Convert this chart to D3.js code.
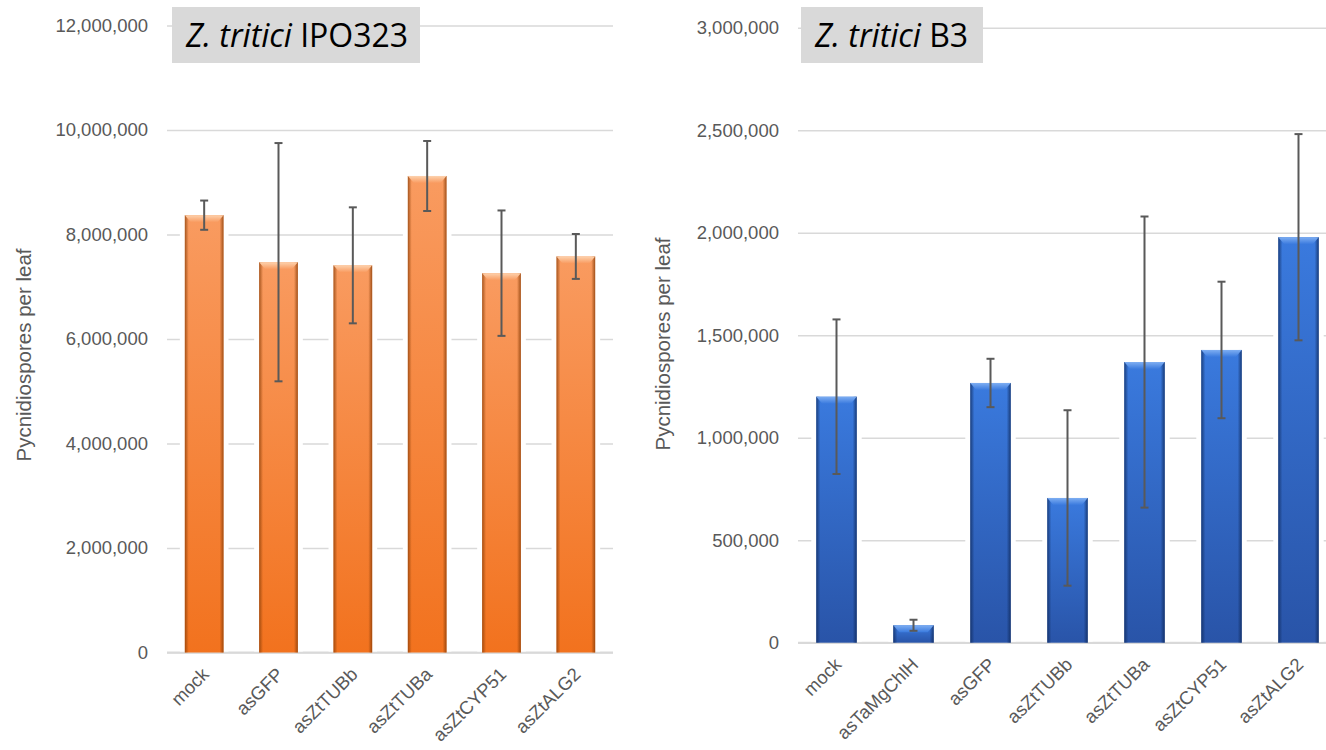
<html>
  <head>
    <meta charset="utf-8">
    <title>Pycnidiospores per leaf</title>
    <style>
      body { margin: 0; background: #fff; }
      svg text { font-family: "Liberation Sans", Arial, sans-serif; }
    </style>
    <script src="https://d3js.org/d3.v7.min.js"></script>
  </head>
  <body>
    <svg id="chart"></svg>
    <script>
      // Left panel: Z. tritici IPO323
      let ipoCategories = ['mock', 'asGFP', 'asZtTUBb', 'asZtTUBa', 'asZtCYP51', 'asZtALG2'];
      let ipoMeans = [8370000, 7470000, 7410000, 9120000, 7260000, 7580000];
      let ipoErrors = [280000, 2280000, 1110000, 670000, 1200000, 430000];
      let ipoTicks = [0, 2000000, 4000000, 6000000, 8000000, 10000000, 12000000];

      // Right panel: Z. tritici B3
      let b3Categories = ['mock', 'asTaMgChlH', 'asGFP', 'asZtTUBb', 'asZtTUBa', 'asZtCYP51', 'asZtALG2'];
      let b3Means = [1200000, 85000, 1267000, 706000, 1369000, 1428000, 1978000];
      let b3Errors = [377000, 27000, 118000, 428000, 710000, 333000, 503000];
      let b3Ticks = [0, 500000, 1000000, 1500000, 2000000, 2500000, 3000000];

      let yTitle = 'Pycnidiospores per leaf';

      let svg = d3.select('#chart')
        .attr('width', 1326)
        .attr('height', 750);

      let defs = svg.append('defs');

      // gradients for the bevelled Excel-ish bars
      function addGradients(id, top, bottom, edge, bevelTop) {
        let v = defs.append('linearGradient').attr('id', id + '-v')
          .attr('x1', 0).attr('y1', 0).attr('x2', 0).attr('y2', 1);
        v.append('stop').attr('offset', 0).attr('stop-color', top);
        v.append('stop').attr('offset', 1).attr('stop-color', bottom);

        let h = defs.append('linearGradient').attr('id', id + '-h')
          .attr('x1', 0).attr('y1', 0).attr('x2', 1).attr('y2', 0);
        h.append('stop').attr('offset', 0).attr('stop-color', edge).attr('stop-opacity', 0.75);
        h.append('stop').attr('offset', 0.1).attr('stop-color', edge).attr('stop-opacity', 0);
        h.append('stop').attr('offset', 0.9).attr('stop-color', edge).attr('stop-opacity', 0);
        h.append('stop').attr('offset', 1).attr('stop-color', edge).attr('stop-opacity', 0.8);

        let b = defs.append('linearGradient').attr('id', id + '-b')
          .attr('x1', 0).attr('y1', 0).attr('x2', 0).attr('y2', 1);
        b.append('stop').attr('offset', 0).attr('stop-color', bevelTop);
        b.append('stop').attr('offset', 1).attr('stop-color', top);
      }
      addGradients('orange', '#f99b60', '#f2721e', '#8a3e08', '#fdd2ae');
      addGradients('blue', '#3a7ade', '#2954a8', '#0f2a5c', '#7eaef2');

      function drawPanel(opts) {
        let g = svg.append('g');

        let x = d3.scaleBand()
          .domain(opts.categories)
          .range([opts.left, opts.right])
          .paddingInner(opts.pad)
          .paddingOuter(opts.pad / 2);

        let y = d3.scaleLinear()
          .domain([0, opts.ticks[opts.ticks.length - 1]])
          .range([opts.bottom, opts.top]);

        // gridlines + tick labels via axisLeft
        let yAxis = g.append('g')
          .attr('transform', `translate(${opts.left},0)`)
          .call(d3.axisLeft(y)
            .tickValues(opts.ticks)
            .tickFormat(d3.format(','))
            .tickSize(-(opts.right - opts.left))
            .tickPadding(19));
        yAxis.select('.domain').remove();
        yAxis.selectAll('line')
          .attr('stroke', '#d9d9d9')
          .attr('stroke-width', 1.5);
        yAxis.selectAll('text')
          .attr('fill', '#595959')
          .style('font-size', '18.5px');

        // bottom axis line
        g.append('line')
          .attr('x1', opts.left).attr('x2', opts.right)
          .attr('y1', y(0)).attr('y2', y(0))
          .attr('stroke', '#d9d9d9')
          .attr('stroke-width', 2);

        let data = opts.categories.map((c, i) => ({ cat: c, mean: opts.means[i], err: opts.errors[i] }));
        let bw = x.bandwidth();

        // soft white glow around bars (breaks the gridlines)
        g.selectAll('rect.glow').data(data).enter().append('rect')
          .attr('class', 'glow')
          .attr('x', d => x(d.cat) - 5)
          .attr('y', d => y(d.mean) - 3)
          .attr('width', bw + 10)
          .attr('height', d => y(0) - y(d.mean) + 2)
          .attr('fill', '#fff');

        g.selectAll('rect.bar').data(data).enter().append('rect')
          .attr('class', 'bar')
          .attr('x', d => x(d.cat))
          .attr('y', d => y(d.mean))
          .attr('width', bw)
          .attr('height', d => y(0) - y(d.mean))
          .attr('fill', `url(#${opts.color}-v)`);

        g.selectAll('rect.edge').data(data).enter().append('rect')
          .attr('class', 'edge')
          .attr('x', d => x(d.cat))
          .attr('y', d => y(d.mean))
          .attr('width', bw)
          .attr('height', d => y(0) - y(d.mean))
          .attr('fill', `url(#${opts.color}-h)`);

        // bevel on top of each bar
        g.selectAll('path.bevel').data(data).enter().append('path')
          .attr('class', 'bevel')
          .attr('d', d => {
            let x0 = x(d.cat), y0 = y(d.mean);
            let bh = Math.min(7, (y(0) - y0) / 2);
            return `M${x0},${y0}L${x0 + bw},${y0}L${x0 + bw - 6},${y0 + bh}L${x0 + 6},${y0 + bh}Z`;
          })
          .attr('fill', `url(#${opts.color}-b)`);

        // error bars
        let eb = g.selectAll('g.err').data(data).enter().append('g')
          .attr('class', 'err')
          .attr('stroke', '#595959')
          .attr('stroke-width', 2);
        let cx = d => x(d.cat) + bw / 2;
        eb.append('line')
          .attr('x1', cx).attr('x2', cx)
          .attr('y1', d => y(d.mean + d.err))
          .attr('y2', d => y(d.mean - d.err));
        eb.append('line')
          .attr('x1', d => cx(d) - 4).attr('x2', d => cx(d) + 4)
          .attr('y1', d => y(d.mean + d.err)).attr('y2', d => y(d.mean + d.err));
        eb.append('line')
          .attr('x1', d => cx(d) - 4).attr('x2', d => cx(d) + 4)
          .attr('y1', d => y(d.mean - d.err)).attr('y2', d => y(d.mean - d.err));

        // category labels, rotated
        g.selectAll('text.cat').data(data).enter().append('text')
          .attr('class', 'cat')
          .attr('transform', d => `translate(${cx(d) + 6},${y(0) + 23}) rotate(-45)`)
          .attr('text-anchor', 'end')
          .attr('fill', '#595959')
          .style('font-size', '18.5px')
          .text(d => d.cat);

        // y axis title
        g.append('text')
          .attr('transform', `translate(${opts.titleX},${opts.titleY}) rotate(-90)`)
          .attr('text-anchor', 'middle')
          .attr('fill', '#595959')
          .style('font-size', '20.5px')
          .text(yTitle);

        // strain label box
        g.append('rect')
          .attr('x', opts.boxX).attr('y', 7)
          .attr('width', opts.boxW).attr('height', 56)
          .attr('fill', '#d9d9d9');
        let t = g.append('text')
          .attr('x', opts.boxX + 14).attr('y', 47)
          .attr('fill', '#000')
          .style('font-family', '"Open Sans", "Noto Sans", sans-serif')
          .style('font-size', '32px');
        t.append('tspan').style('font-style', 'italic').text('Z. tritici');
        t.append('tspan').text(' ' + opts.strain);
      }

      drawPanel({
        categories: ipoCategories, means: ipoMeans, errors: ipoErrors, ticks: ipoTicks,
        left: 167, right: 613, top: 25.5, bottom: 652.5, pad: 0.48,
        color: 'orange', titleX: 31, titleY: 355,
        boxX: 172, boxW: 248, strain: 'IPO323'
      });

      drawPanel({
        categories: b3Categories, means: b3Means, errors: b3Errors, ticks: b3Ticks,
        left: 798, right: 1337, top: 27.7, bottom: 642.7, pad: 0.475,
        color: 'blue', titleX: 670, titleY: 344,
        boxX: 801, boxW: 182, strain: 'B3'
      });
    </script>
  </body>
</html>
